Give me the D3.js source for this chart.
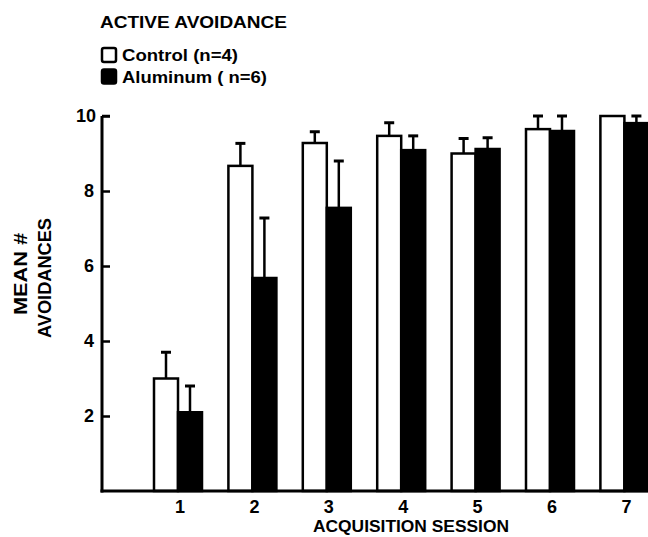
<!DOCTYPE html>
<html>
<head>
<meta charset="utf-8">
<script src="https://cdn.jsdelivr.net/npm/d3@7"></script>
<style>
  html, body { margin: 0; padding: 0; background: #fff; }
  svg { display: block; font-family: "Liberation Sans", Arial, sans-serif; font-weight: bold; }
</style>
</head>
<body>
<svg id="chart" width="648" height="537"></svg>
<script>
// Acquisition sessions and group means (± SEM) for active avoidance
const sessions = [1, 2, 3, 4, 5, 6, 7];
const controlMeans = [3.0, 8.67, 9.28, 9.47, 9.0, 9.65, 10.0];
const controlErr   = [0.7, 0.6, 0.3, 0.35, 0.4, 0.35, 0.0];
const aluminumMeans = [2.1, 5.68, 7.55, 9.09, 9.12, 9.6, 9.81];
const aluminumErr   = [0.7, 1.6, 1.25, 0.38, 0.3, 0.4, 0.19];
const yTicks = [2, 4, 6, 8, 10];
const seriesNames = ["Control (n=4)", "Aluminum ( n=6)"];

const svg = d3.select("#chart");

const axisX0 = 102, axisY0 = 491, axisYTop = 116;
const step = 74.4;
const x = d3.scaleBand()
  .domain(sessions)
  .range([178 - step / 2, 178 - step / 2 + step * sessions.length])
  .padding(0);
const y = d3.scaleLinear().domain([0, 10]).range([axisY0, axisYTop]);

const barW = 24;
const series = [
  { name: seriesNames[0], means: controlMeans, err: controlErr, fill: "#fff", offset: -barW, len: 116 },
  { name: seriesNames[1], means: aluminumMeans, err: aluminumErr, fill: "#000", offset: 0, len: 145 }
];

const cx = s => x(s) + x.bandwidth() / 2;

// error bars (drawn first so bar outlines sit over the stem base)
series.forEach(sr => {
  const g = svg.append("g");
  sessions.forEach((s, i) => {
    if (sr.err[i] <= 0) return;
    const mx = cx(s) + sr.offset + barW / 2;
    const top = y(sr.means[i] + sr.err[i]);
    g.append("line")
      .attr("x1", mx).attr("x2", mx)
      .attr("y1", y(sr.means[i])).attr("y2", top)
      .attr("stroke", "#000").attr("stroke-width", 2.5);
    g.append("line")
      .attr("x1", mx - 5).attr("x2", mx + 5)
      .attr("y1", top).attr("y2", top)
      .attr("stroke", "#000").attr("stroke-width", 3);
  });
});

// bars
series.forEach(sr => {
  svg.append("g").selectAll("rect")
    .data(sessions)
    .join("rect")
    .attr("x", (s) => cx(s) + sr.offset)
    .attr("y", (s, i) => y(sr.means[i]))
    .attr("width", barW)
    .attr("height", (s, i) => axisY0 - y(sr.means[i]))
    .attr("fill", sr.fill)
    .attr("stroke", "#000")
    .attr("stroke-width", 2.5);
});

// y axis
const yAxis = d3.axisRight(y).tickValues(yTicks).tickSize(8).tickFormat("");
const yg = svg.append("g").attr("transform", `translate(${axisX0},0)`).call(yAxis);
yg.select(".domain").remove();
yg.selectAll(".tick line").attr("stroke", "#000").attr("stroke-width", 2.5);
svg.append("line")
  .attr("x1", axisX0).attr("x2", axisX0)
  .attr("y1", y(10)).attr("y2", axisY0 + 1.5)
  .attr("stroke", "#000").attr("stroke-width", 3);
svg.append("line")
  .attr("x1", axisX0).attr("x2", axisX0 + 8)
  .attr("y1", y(10)).attr("y2", y(10))
  .attr("stroke", "#000").attr("stroke-width", 2.5);
svg.append("g").selectAll("text")
  .data(yTicks)
  .join("text")
  .attr("x", d => d === 10 ? 86 : 89).attr("y", d => y(d) + 6)
  .attr("text-anchor", "middle")
  .attr("font-size", 18)
  .text(d => d);

// x axis
svg.append("line")
  .attr("x1", axisX0 - 1.5).attr("x2", 648)
  .attr("y1", axisY0).attr("y2", axisY0)
  .attr("stroke", "#000").attr("stroke-width", 3);
svg.append("g").selectAll("text")
  .data(sessions)
  .join("text")
  .attr("x", d => cx(d) + 2)
  .attr("y", 513)
  .attr("text-anchor", "middle")
  .attr("font-size", 18)
  .text(d => d);

svg.append("text")
  .attr("x", 313).attr("y", 532)
  .attr("font-size", 16)
  .attr("textLength", 196)
  .attr("lengthAdjust", "spacingAndGlyphs")
  .text("ACQUISITION SESSION");

// y title
svg.append("text")
  .attr("transform", "translate(27,274) rotate(-90)")
  .attr("text-anchor", "middle")
  .attr("font-size", 18)
  .attr("textLength", 82)
  .attr("lengthAdjust", "spacingAndGlyphs")
  .text("MEAN #");
svg.append("text")
  .attr("transform", "translate(51,278) rotate(-90)")
  .attr("text-anchor", "middle")
  .attr("font-size", 18)
  .attr("textLength", 120)
  .attr("lengthAdjust", "spacingAndGlyphs")
  .text("AVOIDANCES");

// title and legend
svg.append("text")
  .attr("x", 100).attr("y", 28)
  .attr("font-size", 16)
  .attr("textLength", 187)
  .attr("lengthAdjust", "spacingAndGlyphs")
  .text("ACTIVE  AVOIDANCE");

const leg = svg.append("g");
series.forEach((sr, i) => {
  const ly = 48 + i * 21.5;
  leg.append("rect")
    .attr("x", 102).attr("y", ly)
    .attr("width", 14).attr("height", 14)
    .attr("rx", 2)
    .attr("fill", sr.fill)
    .attr("stroke", "#000").attr("stroke-width", 2.5);
  leg.append("text")
    .attr("x", 122).attr("y", ly + 13)
    .attr("font-size", 16)
    .attr("textLength", sr.len)
    .attr("lengthAdjust", "spacingAndGlyphs")
    .text(sr.name);
});
</script>
</body>
</html>
